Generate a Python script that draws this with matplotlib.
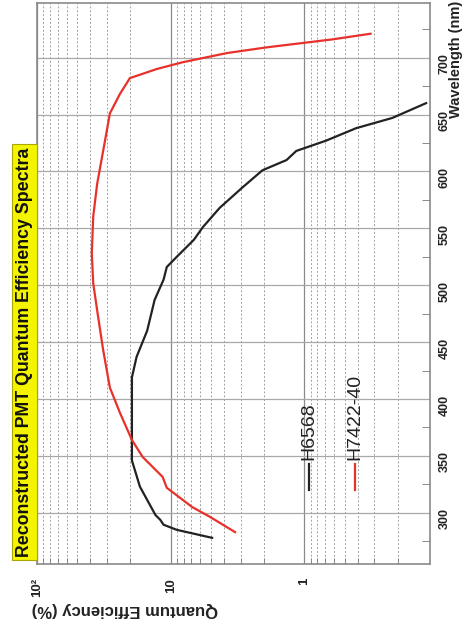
import matplotlib
matplotlib.use("Agg")
import matplotlib.pyplot as plt
from matplotlib.ticker import FixedLocator, LogLocator, NullFormatter

plt.rcParams['font.family'] = ['Liberation Sans', 'DejaVu Sans']

# wavelength (nm) and quantum efficiency (%)
h6568_wl = [278, 285, 289.5, 294, 298, 323, 346, 364, 390, 419, 437, 460, 487,
            505, 516, 525, 540, 551, 568, 586, 601, 610, 618, 627, 638, 647, 660]
h6568_qe = [4.9, 9.0, 11.3, 12.0, 13.0, 17.0, 19.5, 19.5, 19.5, 19.5, 18.0, 15.0, 13.2,
            11.3, 10.7, 9.0, 6.7, 5.75, 4.3, 2.9, 2.06, 1.36, 1.15, 0.69, 0.41, 0.22, 0.123]

h7422_wl = [283, 296.5, 305, 322, 331.6, 349, 364, 388, 410, 443, 478, 502, 528,
            560, 589, 627, 651, 668, 682, 690, 696, 704, 709, 716, 721]
h7422_qe = [3.3, 5.1, 6.9, 10.7, 11.5, 16.2, 19.5, 24, 28.5, 32, 35.5, 38, 38.9,
            38, 35.5, 31, 28.5, 24, 20.2, 12.7, 8.1, 3.8, 1.92, 0.62, 0.32]

series_names = ['H6568', 'H7422-40']
series_colors = ['#222222', '#e8312b']

wl_ticks = [300, 350, 400, 450, 500, 550, 600, 650, 700]
wl_minor = [275, 325, 375, 425, 475, 525, 575, 625, 675, 725]
qe_ticks = [100, 10, 1]
qe_labels = ['10²', '10', '1']

title = 'Reconstructed PMT Quantum Efficiency Spectra'

W, H = 466, 628
fig = plt.figure(figsize=(W / 100, H / 100), dpi=100)
ax = fig.add_axes([37 / W, (H - 564) / H, (430 - 37) / W, (564 - 3) / H])

ax.plot(h6568_qe, h6568_wl, color=series_colors[0], lw=1.6)
ax.plot(h7422_qe, h7422_wl, color=series_colors[1], lw=1.6)

ax.set_xscale('log')
ax.set_xlim(100, 0.115)
ax.set_ylim(255, 748)

ax.xaxis.set_major_locator(FixedLocator(qe_ticks))
ax.set_xticklabels(qe_labels)
ax.xaxis.set_minor_locator(LogLocator(base=10, subs=range(2, 10)))
ax.xaxis.set_minor_formatter(NullFormatter())

ax.yaxis.tick_right()
ax.yaxis.set_major_locator(FixedLocator(wl_ticks))
ax.yaxis.set_minor_locator(FixedLocator(wl_minor))

ax.grid(which='major', axis='x', color='#8a8a8a', lw=0.9)
ax.grid(which='minor', axis='x', color='#a0a0a0', lw=0.7, ls=(0, (2, 2)))
ax.grid(which='major', axis='y', color='#a8a8a8', lw=0.9)

ax.tick_params(axis='x', which='major', length=0, pad=10, labelsize=9.5,
               labelrotation=90, labelcolor='#222222')
ax.tick_params(axis='x', which='minor', direction='in', length=4, color='#777777', bottom=True, top=False)
ax.tick_params(axis='y', which='major', length=0, pad=6, labelsize=9,
               labelrotation=90, labelcolor='#222222')
ax.tick_params(axis='y', which='minor', direction='in', length=6, color='#777777', right=True, left=False)
for lab in ax.get_xticklabels() + ax.get_yticklabels():
    lab.set_fontweight('bold')
for s in ax.spines.values():
    s.set_color('#8a8a8a')
    s.set_linewidth(1.2)

# hand-placed legend, rotated with the chart
leg_x = [0.692, 0.809]
for name, col, lx in zip(series_names, series_colors, leg_x):
    ax.plot([lx, lx], [0.132, 0.178], color=col, lw=1.6, transform=ax.transAxes)
    ax.text(lx, 0.186, name, rotation=90, ha='center', va='bottom', fontsize=14,
            color='#222222', transform=ax.transAxes)

fig.text(24.5 / W, 1 - 352 / H, title, rotation=90, ha='center', va='center',
         fontsize=12.8, fontweight='bold', color='#111111',
         bbox=dict(boxstyle='square,pad=0.2', facecolor='#f4f400', edgecolor='#a8a800', lw=0.8))

fig.text(456 / W, 1 - 118 / H, 'Wavelength (nm)', rotation=90, ha='center', va='bottom',
         fontsize=10.5, fontweight='bold', color='#222222')
fig.text(32 / W, 1 - 610 / H, 'Quantum Efficiency (%)', rotation=180, ha='left', va='center',
         fontsize=12, fontweight='bold', color='#222222')

fig.savefig('out.png', dpi=100)
